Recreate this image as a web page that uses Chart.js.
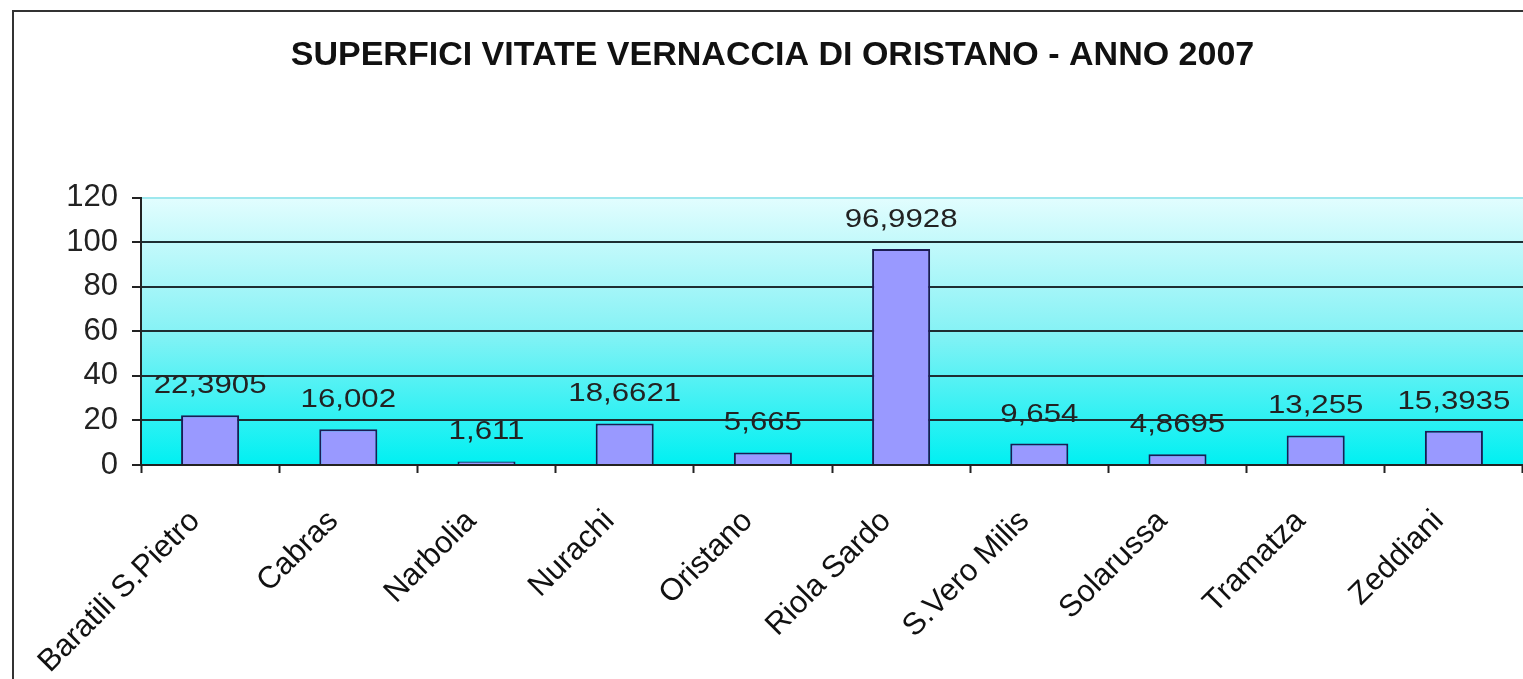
<!DOCTYPE html>
<html lang="it">
<head>
    <meta charset="UTF-8">
    <title>Superfici vitate Vernaccia di Oristano - 2007</title>
    <script src="https://cdn.jsdelivr.net/npm/chart.js"></script>
    <style>
        body { margin: 0; background: #fff; }
        .chart-box { width: 1523px; height: 679px; }
    </style>
</head>
<body>
    <div class="chart-box">
        <canvas id="vernacciaChart"></canvas>
    </div>

    <script>
        // Dati (ettari per comune)
        const comuni = ['Baratili S.Pietro', 'Cabras', 'Narbolia', 'Nurachi', 'Oristano', 'Riola Sardo', 'S.Vero Milis', 'Solarussa', 'Tramatza', 'Zeddiani'];
        const superfici = [22.3905, 16.002, 1.611, 18.6621, 5.665, 96.9928, 9.654, 4.8695, 13.255, 15.3935];
        const yTicks = [0, 20, 40, 60, 80, 100, 120];

        const fontName = '"Liberation Sans", Arial, sans-serif';

        // cornice esterna + sfondo sfumato dell'area del grafico
        const background = {
            id: 'background',
            beforeDraw(chart) {
                const { ctx, chartArea: a } = chart;
                ctx.save();
                ctx.fillStyle = '#fff';
                ctx.fillRect(0, 0, chart.width, chart.height);
                const g = ctx.createLinearGradient(0, a.top, 0, a.bottom);
                g.addColorStop(0, '#e2fdfe');
                g.addColorStop(0.5, '#86f2f5');
                g.addColorStop(1, '#00f0f2');
                ctx.fillStyle = g;
                ctx.fillRect(a.left, a.top, a.right - a.left, a.bottom - a.top);
                ctx.strokeStyle = '#333';
                ctx.lineWidth = 2;
                ctx.strokeRect(13, 11, chart.width + 50, chart.height + 50);
                ctx.restore();
            }
        };

        // etichette con i valori sopra le barre (testo un po' allargato come nell'originale)
        const valueLabels = {
            id: 'valueLabels',
            afterDatasetsDraw(chart) {
                const { ctx } = chart;
                const meta = chart.getDatasetMeta(0);
                ctx.save();
                ctx.font = '26px ' + fontName;
                ctx.fillStyle = '#222';
                ctx.textAlign = 'center';
                ctx.textBaseline = 'alphabetic';
                meta.data.forEach((bar, i) => {
                    const txt = String(superfici[i]).replace('.', ',');
                    ctx.save();
                    ctx.translate(bar.x, bar.y - 22);
                    ctx.scale(1.2, 1);
                    ctx.fillText(txt, 0, 0);
                    ctx.restore();
                });
                ctx.restore();
            }
        };

        const ctx = document.getElementById('vernacciaChart').getContext('2d');
        const vernacciaChart = new Chart(ctx, {
            type: 'bar',
            data: {
                labels: comuni,
                datasets: [{
                    data: superfici,
                    backgroundColor: '#9999ff',
                    borderColor: '#1c1c54',
                    borderWidth: 2,
                    barPercentage: 0.42,
                    categoryPercentage: 1
                }]
            },
            options: {
                responsive: true,
                maintainAspectRatio: false,
                animation: false,
                layout: { padding: { left: 22, right: 0, top: 0, bottom: 0 } },
                plugins: {
                    legend: { display: false },
                    tooltip: { enabled: false },
                    title: {
                        display: true,
                        text: 'SUPERFICI VITATE VERNACCIA DI ORISTANO - ANNO 2007',
                        color: '#111',
                        font: { family: fontName, size: 34, weight: 'bold' },
                        padding: { top: 35, bottom: 122 }
                    }
                },
                scales: {
                    x: {
                        offset: true,
                        grid: {
                            offset: true,
                            drawOnChartArea: false,
                            drawTicks: true,
                            tickLength: 8,
                            tickColor: '#222',
                            tickWidth: 2
                        },
                        border: { color: '#222', width: 2 },
                        ticks: {
                            color: '#111',
                            font: { family: fontName, size: 31 },
                            maxRotation: 45,
                            minRotation: 45,
                            padding: 30,
                            labelOffset: -15,
                            autoSkip: false
                        },
                        afterFit(scale) { scale.height = 214; }
                    },
                    y: {
                        min: 0,
                        max: 120,
                        afterBuildTicks(scale) {
                            scale.ticks = yTicks.map(v => ({ value: v }));
                        },
                        grid: {
                            color: c => (c.tick && c.tick.value === 120) ? '#9ee8ee' : '#1e2e32',
                            lineWidth: 2,
                            tickLength: 9,
                            tickColor: '#222',
                            tickWidth: 2
                        },
                        border: { color: '#222', width: 2 },
                        ticks: {
                            color: '#222',
                            font: { family: fontName, size: 31 },
                            padding: 14
                        },
                        afterFit(scale) { scale.width = 119; }
                    }
                }
            },
            plugins: [background, valueLabels]
        });
    </script>
</body>
</html>
